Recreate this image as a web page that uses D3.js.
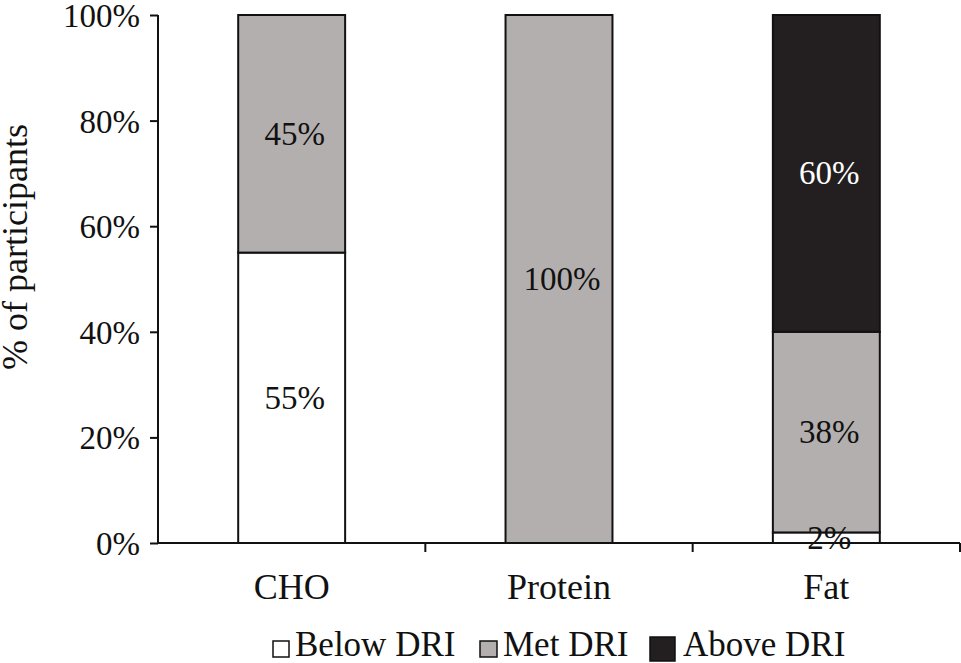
<!DOCTYPE html>
<html><head><meta charset="utf-8">
<script src="https://cdn.jsdelivr.net/npm/d3@7"></script>
<style>body{margin:0;background:#fff}svg{display:block}text{font-family:"Liberation Serif","Times New Roman",serif;fill:#111}</style>
</head><body>
<svg id="c" width="961" height="663"></svg>
<script>
const categories = ["CHO", "Protein", "Fat"];
const seriesNames = ["Below DRI", "Met DRI", "Above DRI"];
const belowDRI = [55, 0, 2];
const metDRI = [45, 100, 38];
const aboveDRI = [0, 0, 60];
const yTicks = [0, 20, 40, 60, 80, 100];
const colors = ["#ffffff", "#b3afae", "#231f20"];
const labelColors = ["#111", "#111", "#ffffff"];

const svg = d3.select("#c");
const mLeft = 158, mRight = 960, mTop = 15, mBottom = 543;
const x = d3.scaleBand().domain(categories).range([mLeft, mRight]).paddingInner(0.6).paddingOuter(0.3);
const y = d3.scaleLinear().domain([0, 100]).range([mBottom, mTop]);

const rows = categories.map((c, i) => ({cat: c, "Below DRI": belowDRI[i], "Met DRI": metDRI[i], "Above DRI": aboveDRI[i]}));
const stacked = d3.stack().keys(seriesNames)(rows);

stacked.forEach((s, si) => {
  const g = svg.append("g");
  s.forEach((d, i) => {
    if (d[1] - d[0] <= 0) return;
    g.append("rect")
      .attr("x", x(categories[i])).attr("width", x.bandwidth())
      .attr("y", y(d[1])).attr("height", y(d[0]) - y(d[1]))
      .attr("fill", colors[si]).attr("stroke", "#111").attr("stroke-width", 2);
  });
});
stacked.forEach((s, si) => {
  s.forEach((d, i) => {
    const v = d[1] - d[0];
    if (v <= 0) return;
    svg.append("text")
      .attr("x", x(categories[i]) + x.bandwidth() / 2 + 3)
      .attr("y", y((d[0] + d[1]) / 2) + 11)
      .attr("text-anchor", "middle").attr("font-size", 33)
      .style("fill", labelColors[si])
      .text(v + "%");
  });
});

// y axis
const ya = svg.append("g").attr("transform", `translate(${mLeft},0)`)
  .call(d3.axisLeft(y).tickValues(yTicks).tickFormat(d => d + "%").tickSize(8).tickPadding(10));
ya.select(".domain").attr("stroke", "#111").attr("stroke-width", 2).attr("d", `M0,${mTop}V${mBottom}`);
ya.selectAll(".tick line").attr("stroke", "#111").attr("stroke-width", 2);
ya.selectAll(".tick text").attr("font-size", 33).attr("font-family", "Liberation Serif").attr("dy", "0.35em").style("fill", "#111");

// x axis
const xa = svg.append("g").attr("transform", `translate(0,${mBottom})`);
xa.append("line").attr("x1", mLeft).attr("x2", mRight).attr("stroke", "#111").attr("stroke-width", 2);
const step = x.step();
const bounds = categories.map((c, i) => x(c) - x.paddingOuter() * step + step * 1);
bounds.forEach(b => xa.append("line").attr("x1", b).attr("x2", b).attr("y1", 0).attr("y2", 9).attr("stroke", "#111").attr("stroke-width", 2));
categories.forEach(c => xa.append("text").attr("x", x(c) + x.bandwidth() / 2).attr("y", 56)
  .attr("text-anchor", "middle").attr("font-size", 36).text(c));

// y title
svg.append("text").attr("transform", `translate(27,247) rotate(-90)`)
  .attr("text-anchor", "middle").attr("font-size", 36).text("% of participants");

// legend
const legBox = [[273, 641, 16, 16], [480, 641, 17, 16], [650, 637, 25, 24]];
const legTX = [295, 503, 683];
seriesNames.forEach((n, i) => {
  const b = legBox[i];
  svg.append("rect").attr("x", b[0]).attr("y", b[1]).attr("width", b[2]).attr("height", b[3])
    .attr("fill", colors[i]).attr("stroke", "#111").attr("stroke-width", 1.5);
  svg.append("text").attr("x", legTX[i]).attr("y", 656).attr("font-size", 35).text(n);
});
</script>
</body></html>
